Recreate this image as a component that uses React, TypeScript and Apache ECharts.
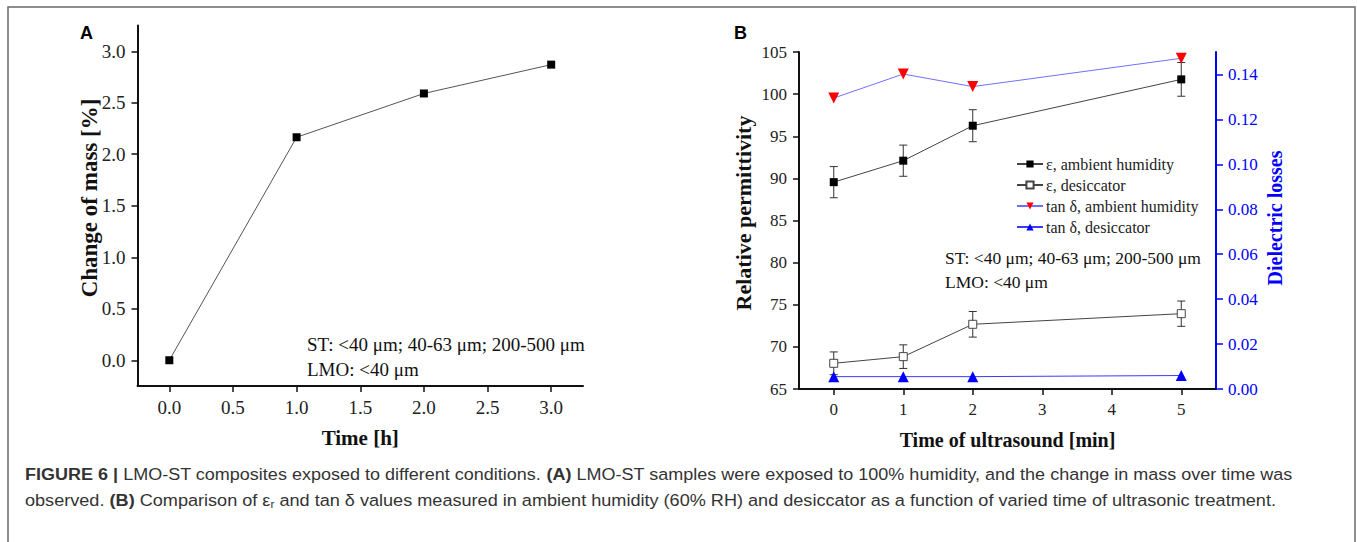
import React, { useEffect, useRef } from "react";
import * as echarts from "echarts";

// Panel A data
const timeH = [0, 1, 2, 3];
const massChange = [0, 2.165, 2.59, 2.87];
const xTicksA = [0, 0.5, 1, 1.5, 2, 2.5, 3];
const yTicksA = [0, 0.5, 1, 1.5, 2, 2.5, 3];

// Panel B data
const timeUS = [0, 1, 2, 5];
const epsAmbient = [89.55, 92.1, 96.25, 101.75];
const epsAmbientErr = [1.85, 1.85, 1.9, 2.0];
const epsDesic = [68.05, 68.84, 72.68, 73.94];
const epsDesicErr = [1.35, 1.4, 1.52, 1.5];
const tanAmbient = [0.1295, 0.1402, 0.1346, 0.1472];
const tanDesic = [0.0055, 0.0055, 0.0055, 0.006];
const xTicksB = [0, 1, 2, 3, 4, 5];
const yTicksB = [65, 70, 75, 80, 85, 90, 95, 100, 105];
const yTicksB2 = [0, 0.02, 0.04, 0.06, 0.08, 0.1, 0.12, 0.14];

const legendNames = [
  "ε, ambient humidity",
  "ε, desiccator",
  "tan δ, ambient humidity",
  "tan δ, desiccator",
];

const titleYA = "Change of mass [%]";
const titleYB = "Relative permittivity";
const titleYB2 = "Dielectric losses";

const noteLine1 = "ST: <40 μm; 40-63 μm; 200-500 μm";
const noteLine2 = "LMO: <40 μm";

const captionLine1 = [
  { t: "FIGURE 6 |", b: true },
  { t: " LMO-ST composites exposed to different conditions. ", b: false },
  { t: "(A)", b: true },
  { t: " LMO-ST samples were exposed to 100% humidity, and the change in mass over time was", b: false },
];
const captionLine2 = [
  { t: "observed. ", b: false },
  { t: "(B)", b: true },
  { t: " Comparison of ε", b: false },
  { t: "r", b: false, sub: true },
  { t: " and tan δ values measured in ambient humidity (60% RH) and desiccator as a function of varied time of ultrasonic treatment.", b: false },
];

const SERIF = "'Liberation Serif', 'Times New Roman', serif";
const SANS = "'Liberation Sans', Arial, sans-serif";
const CAP_SIZE = 17;

function measureParts(parts: any[]) {
  const c = document.createElement("canvas").getContext("2d");
  let w = 0;
  if (!c) return 1000;
  for (const p of parts) {
    const size = p.sub ? 11 : CAP_SIZE;
    c.font = `${p.b ? "bold " : ""}${size}px ${SANS}`;
    w += c.measureText(p.t).width;
  }
  return w;
}

function richText(parts: any[]) {
  return parts
    .map((p) => (p.b ? `{b|${p.t}}` : p.sub ? `{s|${p.t}}` : `{n|${p.t}}`))
    .join("");
}

function errData(xs: number[], ys: number[], es: number[]) {
  return xs.map((x, i) => [x, ys[i] - es[i], ys[i] + es[i]]);
}

const errorRender = (params: any, api: any) => {
  const x = api.value(0);
  const lo = api.value(1);
  const hi = api.value(2);
  const top = api.coord([x, hi]);
  const bot = api.coord([x, lo]);
  const hw = 4;
  const style = { stroke: "#333", lineWidth: 1 };
  return {
    type: "group",
    children: [
      { type: "line", shape: { x1: top[0], y1: top[1], x2: bot[0], y2: bot[1] }, style },
      { type: "line", shape: { x1: top[0] - hw, y1: top[1], x2: top[0] + hw, y2: top[1] }, style },
      { type: "line", shape: { x1: bot[0] - hw, y1: bot[1], x2: bot[0] + hw, y2: bot[1] }, style },
    ],
  };
};

export default function App() {
  const ref = useRef<HTMLDivElement>(null);

  useEffect(() => {
    if (!ref.current) return;
    const chart = echarts.init(ref.current, undefined, { renderer: "svg" });

    const w1 = measureParts(captionLine1);
    const w2 = measureParts(captionLine2);
    const s1 = (1293 - 25) / w1;
    const s2 = (1277 - 25) / w2;
    const capRich = {
      n: { fontSize: CAP_SIZE, fontFamily: SANS, fill: "#333" },
      b: { fontSize: CAP_SIZE, fontFamily: SANS, fontWeight: "bold", fill: "#333" },
      s: { fontSize: 11, fontFamily: SANS, fill: "#333", padding: [8, 0, 0, 0] },
    };

    const tickLabelA = {
      fontFamily: SERIF,
      fontSize: 19,
      color: "#222",
    };
    const tickLabelB = {
      fontFamily: SERIF,
      fontSize: 17,
      color: "#222",
    };
    const axisNameStyle = {
      fontFamily: SERIF,
      fontSize: 21,
      fontWeight: "bold",
      color: "#111",
    };

    const option: any = {
      animation: false,
      backgroundColor: "#fff",
      grid: [
        { left: 137.5, top: 25.5, width: 445.5, height: 360.5 },
        { left: 799, top: 52, width: 417, height: 337 },
      ],
      xAxis: [
        {
          type: "value",
          gridIndex: 0,
          min: -0.25,
          max: 3.25,
          name: "Time [h]",
          nameLocation: "middle",
          nameGap: 41,
          nameTextStyle: axisNameStyle,
          splitLine: { show: false },
          axisLine: { onZero: false, lineStyle: { color: "#111", width: 2 } },
          axisTick: { customValues: xTicksA, length: 6, lineStyle: { color: "#111", width: 1.5 } },
          axisLabel: {
            customValues: xTicksA,
            margin: 12,
            formatter: (v: number) => v.toFixed(1),
            ...tickLabelA,
          },
        },
        {
          type: "value",
          gridIndex: 1,
          min: -0.5,
          max: 5.5,
          name: "Time of ultrasound [min]",
          nameLocation: "middle",
          nameGap: 41,
          nameTextStyle: { ...axisNameStyle, fontSize: 20 },
          splitLine: { show: false },
          axisLine: { onZero: false, lineStyle: { color: "#111", width: 2 } },
          axisTick: { customValues: xTicksB, length: 6, lineStyle: { color: "#111", width: 1.5 } },
          axisLabel: {
            customValues: xTicksB,
            margin: 12,
            formatter: (v: number) => String(v),
            ...tickLabelB,
          },
        },
      ],
      yAxis: [
        {
          type: "value",
          gridIndex: 0,
          min: -0.25,
          max: 3.25,
          splitLine: { show: false },
          axisLine: { show: true, onZero: false, lineStyle: { color: "#111", width: 2 } },
          axisTick: { show: true, customValues: yTicksA, length: 6, lineStyle: { color: "#111", width: 1.5 } },
          axisLabel: {
            customValues: yTicksA,
            margin: 12,
            formatter: (v: number) => v.toFixed(1),
            ...tickLabelA,
          },
        },
        {
          type: "value",
          gridIndex: 1,
          min: 65,
          max: 105,
          splitLine: { show: false },
          axisLine: { show: true, onZero: false, lineStyle: { color: "#111", width: 2 } },
          axisTick: { show: true, customValues: yTicksB, length: 6, lineStyle: { color: "#111", width: 1.5 } },
          axisLabel: {
            customValues: yTicksB,
            margin: 12,
            formatter: (v: number) => String(v),
            ...tickLabelB,
          },
        },
        {
          type: "value",
          gridIndex: 1,
          position: "right",
          min: 0,
          max: 0.15,
          splitLine: { show: false },
          axisLine: { show: true, onZero: false, lineStyle: { color: "#0000ff", width: 2 } },
          axisTick: { show: true, customValues: yTicksB2, length: 7, lineStyle: { color: "#0000ff", width: 1.5 } },
          axisLabel: {
            customValues: yTicksB2,
            margin: 12,
            formatter: (v: number) => v.toFixed(2),
            ...tickLabelB,
            color: "#0000ff",
          },
        },
      ],
      legend: {
        orient: "vertical",
        left: 1016,
        top: 156,
        itemWidth: 26,
        itemHeight: 9,
        itemGap: 5,
        padding: 0,
        data: legendNames,
        textStyle: { fontFamily: SERIF, fontSize: 16, color: "#222", padding: [0, 0, 0, -2] },
      },
      series: [
        {
          type: "line",
          xAxisIndex: 0,
          yAxisIndex: 0,
          data: timeH.map((t, i) => [t, massChange[i]]),
          symbol: "rect",
          symbolSize: 8,
          itemStyle: { color: "#000" },
          lineStyle: { color: "#555", width: 1 },
        },
        {
          type: "custom",
          name: "errAmbient",
          xAxisIndex: 1,
          yAxisIndex: 1,
          z: 1,
          renderItem: errorRender,
          encode: { x: 0, y: [1, 2] },
          data: errData(timeUS, epsAmbient, epsAmbientErr),
        },
        {
          type: "custom",
          name: "errDesic",
          xAxisIndex: 1,
          yAxisIndex: 1,
          z: 1,
          renderItem: errorRender,
          encode: { x: 0, y: [1, 2] },
          data: errData(timeUS, epsDesic, epsDesicErr),
        },
        {
          type: "line",
          name: legendNames[0],
          xAxisIndex: 1,
          yAxisIndex: 1,
          z: 3,
          data: timeUS.map((t, i) => [t, epsAmbient[i]]),
          symbol: "rect",
          symbolSize: 8,
          itemStyle: { color: "#000" },
          lineStyle: { color: "#444", width: 1 },
        },
        {
          type: "line",
          name: legendNames[1],
          xAxisIndex: 1,
          yAxisIndex: 1,
          z: 3,
          data: timeUS.map((t, i) => [t, epsDesic[i]]),
          symbol: "rect",
          symbolSize: 8,
          itemStyle: { color: "#fff", borderColor: "#444", borderWidth: 1 },
          lineStyle: { color: "#444", width: 1 },
        },
        {
          type: "line",
          name: legendNames[2],
          xAxisIndex: 1,
          yAxisIndex: 2,
          z: 3,
          data: timeUS.map((t, i) => [t, tanAmbient[i]]),
          symbol: "triangle",
          symbolRotate: 180,
          symbolSize: 11,
          itemStyle: { color: "#ff0000" },
          lineStyle: { color: "#7070ff", width: 1 },
        },
        {
          type: "line",
          name: legendNames[3],
          xAxisIndex: 1,
          yAxisIndex: 2,
          z: 3,
          data: timeUS.map((t, i) => [t, tanDesic[i]]),
          symbol: "triangle",
          symbolSize: 11,
          itemStyle: { color: "#0000ff" },
          lineStyle: { color: "#3a3aff", width: 1 },
        },
      ],
      graphic: [
        {
          type: "rect",
          shape: { x: 8, y: 7, width: 1347, height: 600 },
          style: { fill: "none", stroke: "#6a6a6a", lineWidth: 1.5 },
          silent: true,
        },
        {
          type: "text",
          x: 89,
          y: 198,
          rotation: Math.PI / 2,
          style: { text: titleYA, font: `bold 23px ${SERIF}`, fill: "#111", align: "center", verticalAlign: "middle" },
        },
        {
          type: "text",
          x: 743,
          y: 213,
          rotation: Math.PI / 2,
          style: { text: titleYB, font: `bold 22px ${SERIF}`, fill: "#111", align: "center", verticalAlign: "middle" },
        },
        {
          type: "text",
          x: 1275,
          y: 218,
          rotation: Math.PI / 2,
          style: { text: titleYB2, font: `bold 20px ${SERIF}`, fill: "#0000ff", align: "center", verticalAlign: "middle" },
        },
        {
          type: "text",
          x: 80,
          y: 33,
          style: { text: "A", font: "bold 18px 'Liberation Sans', Arial, sans-serif", fill: "#000", verticalAlign: "middle" },
        },
        {
          type: "text",
          x: 734,
          y: 33,
          style: { text: "B", font: "bold 18px 'Liberation Sans', Arial, sans-serif", fill: "#000", verticalAlign: "middle" },
        },
        {
          type: "text",
          x: 307,
          y: 344,
          style: { text: noteLine1, font: `19px ${SERIF}`, fill: "#111", verticalAlign: "middle" },
        },
        {
          type: "text",
          x: 307,
          y: 369,
          style: { text: noteLine2, font: `19px ${SERIF}`, fill: "#111", verticalAlign: "middle" },
        },
        {
          type: "text",
          x: 945,
          y: 258,
          style: { text: noteLine1, font: `17.5px ${SERIF}`, fill: "#111", verticalAlign: "middle" },
        },
        {
          type: "text",
          x: 945,
          y: 282,
          style: { text: noteLine2, font: `17.5px ${SERIF}`, fill: "#111", verticalAlign: "middle" },
        },
        {
          type: "text",
          x: 25,
          y: 474,
          scaleX: s1,
          style: { text: richText(captionLine1), rich: capRich, verticalAlign: "middle" },
        },
        {
          type: "text",
          x: 25,
          y: 500,
          scaleX: s2,
          style: { text: richText(captionLine2), rich: capRich, verticalAlign: "middle" },
        },
      ],
    };

    chart.setOption(option);
    return () => chart.dispose();
  }, []);

  return (
    <div
      ref={ref}
      style={{ position: "fixed", left: 0, top: 0, width: 1357, height: 542, background: "#fff" }}
    />
  );
}
